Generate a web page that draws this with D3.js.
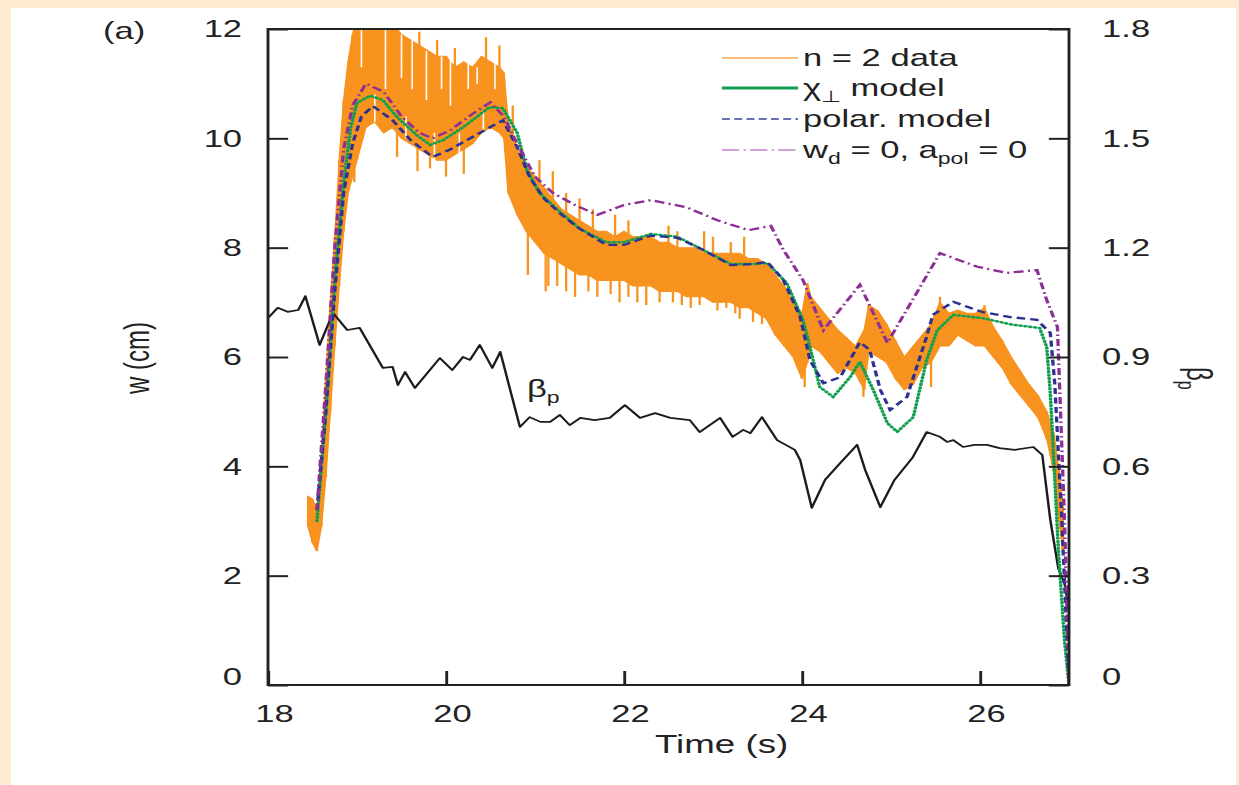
<!DOCTYPE html>
<html>
<head>
<meta charset="utf-8">
<script src="https://cdn.jsdelivr.net/npm/d3@7/dist/d3.min.js"></script>
<style>
  html, body { margin: 0; padding: 0; background: #FCEBD0; overflow: hidden; }
  svg { display: block; }
</style>
</head>
<body>
<script>
// ---------------- DATA ----------------
const timeTicks = [18, 20, 22, 24, 26];
const wTicks = [0, 2, 4, 6, 8, 10, 12];
const betaTicks = [0, 0.3, 0.6, 0.9, 1.2, 1.5, 1.8];
const betaTickLabels = ["0", "0.3", "0.6", "0.9", "1.2", "1.5", "1.8"];

const legendLabels = ["n = 2 data", "χ⊥ model", "polar. model", "wd = 0, apol = 0"];

// n=2 data: [time, lower envelope, upper envelope] (w in cm)
const orangeBand = [
  [18.45,2.9,3.45],[18.50,2.6,3.4],[18.55,2.45,3.2],[18.60,2.9,4.2],[18.65,3.8,5.6],
  [18.70,5.0,7.0],[18.75,6.2,8.2],[18.80,7.3,9.6],[18.85,8.3,10.7],[18.90,9.0,11.4],
  [18.95,9.3,11.9],[19.00,9.6,12.2],[19.10,10.2,12.3],[19.20,10.3,12.3],[19.30,10.1,12.3],
  [19.40,10.2,12.1],[19.50,10.0,11.9],[19.60,9.9,11.8],[19.70,9.8,11.7],[19.80,9.7,11.6],
  [19.90,9.6,11.5],[20.00,9.6,11.5],[20.10,9.7,11.3],[20.20,9.8,11.4],[20.30,9.9,11.3],
  [20.40,10.1,11.5],[20.50,10.2,11.4],[20.60,10.1,11.3],[20.65,10.0,11.2],[20.70,9.0,10.3],
  [20.80,8.6,9.8],[20.90,8.3,9.5],[21.00,8.1,9.3],[21.10,7.9,9.1],[21.20,7.8,8.9],
  [21.30,7.7,8.7],[21.40,7.6,8.6],[21.50,7.5,8.5],[21.60,7.5,8.4],[21.70,7.4,8.3],
  [21.80,7.4,8.3],[21.90,7.4,8.2],[22.00,7.4,8.3],[22.10,7.3,8.2],[22.20,7.3,8.2],
  [22.30,7.3,8.2],[22.40,7.2,8.1],[22.50,7.2,8.1],[22.60,7.2,8.0],[22.70,7.1,8.0],
  [22.80,7.1,8.0],[22.90,7.1,7.9],[23.00,7.0,7.9],[23.10,7.0,7.9],[23.20,7.0,7.9],
  [23.30,6.9,7.9],[23.40,6.9,7.8],[23.50,6.8,7.8],[23.60,6.7,7.7],[23.70,6.4,7.5],
  [23.80,6.2,7.3],[23.90,6.0,7.0],[24.00,5.6,6.8],[24.06,5.9,7.35],[24.10,6.2,7.1],
  [24.20,6.1,6.9],[24.30,5.9,6.7],[24.40,5.7,6.5],[24.50,5.8,6.35],[24.60,5.7,6.2],
  [24.70,5.4,6.5],[24.75,6.1,6.95],[24.85,6.0,6.85],[24.95,5.9,6.6],[25.05,5.6,6.3],
  [25.15,5.4,6.0],[25.25,5.5,6.2],[25.35,5.8,6.4],[25.45,5.9,6.6],[25.55,6.2,7.0],
  [25.65,6.2,6.8],[25.75,6.4,6.86],[25.85,6.3,6.8],[25.95,6.2,6.8],[26.05,6.2,6.9],
  [26.15,6.0,6.55],[26.25,5.8,6.3],[26.35,5.5,6.0],[26.45,5.3,5.75],[26.55,5.1,5.5],
  [26.65,4.9,5.3],[26.75,4.5,5.0],[26.83,3.9,4.6],[26.88,3.1,4.0],[26.93,2.45,3.3]
];
// isolated spikes of the noisy signal: [time, from, to]
const orangeSpikes = [
  [18.97,9.2,10.0],[19.45,9.66,10.5],[19.68,9.4,10.2],[19.82,9.45,10.0],[20.0,9.3,10.0],
  [20.2,9.35,10.0],[19.7,11.5,11.95],[19.9,11.3,11.8],[20.1,11.1,11.65],[20.45,11.3,11.85],
  [20.6,11.1,11.7],[20.75,9.5,10.6],[20.92,7.5,8.5],[21.05,9.0,9.6],[21.12,7.2,8.0],
  [21.25,7.3,7.9],[21.45,7.1,7.7],[21.5,8.3,8.9],[21.6,7.2,7.6],[21.9,8.0,8.6],
  [21.95,7.0,7.5],[22.25,6.95,7.4],[22.5,8.0,8.4],[22.55,7.0,7.3],[22.75,6.9,7.2],
  [22.9,7.8,8.3],[23.05,6.85,7.1],[23.3,6.7,7.0],[23.35,7.8,8.2],[23.45,6.64,7.0],
  [24.03,5.45,5.8],[24.69,5.27,5.6],[25.45,5.45,5.9],[25.55,6.9,7.1],[26.05,6.8,6.95],
  [21.15,7.3,7.9],[21.35,7.2,7.8],[21.7,7.1,7.5],[21.85,7.15,7.5],[22.05,7.1,7.5],
  [22.15,7.0,7.4],[22.4,7.0,7.3],[22.65,6.95,7.3],[22.85,6.95,7.2],[23.15,6.9,7.1],
  [23.25,6.8,7.1],[23.55,6.6,6.9],[21.2,8.9,9.4],[21.35,8.6,9.0],[21.65,8.3,8.7],
  [22.05,8.2,8.5],[22.6,7.9,8.3],[23.0,7.8,8.2],[23.2,7.8,8.1]
];
// blank gaps between the noisy vertical strokes: [time, from, to]
const orangeGaps = [
  [19.05,11.3,12.3],[19.32,10.9,12.3],[19.5,11.1,11.9],[19.62,10.9,11.8],[19.78,10.7,11.6],
  [19.95,10.9,11.5],[20.05,10.6,11.5],[20.25,10.9,11.4],[20.35,11.0,11.3],[20.55,10.9,11.4],
  [19.2,10.3,10.8],[19.55,10.0,10.4],[19.87,9.6,10.1],[20.15,9.7,10.1],[20.42,10.1,10.5]
];

// chi_perp model (green dotted)
const chiModel = [
  [18.55,3.0],[18.65,5.0],[18.75,7.4],[18.85,9.2],[18.93,10.2],[19.0,10.65],[19.15,10.78],
  [19.29,10.7],[19.45,10.39],[19.67,10.06],[19.82,9.88],[19.97,9.97],[20.19,10.2],[20.49,10.57],
  [20.64,10.55],[20.80,10.1],[20.91,9.42],[21.05,9.0],[21.25,8.7],[21.5,8.35],[21.8,8.1],
  [22.0,8.1],[22.3,8.25],[22.6,8.2],[22.9,7.95],[23.2,7.7],[23.45,7.7],[23.61,7.72],
  [23.83,7.35],[24.01,6.68],[24.09,6.18],[24.20,5.45],[24.35,5.27],[24.54,5.63],[24.65,5.91],
  [24.80,5.40],[24.96,4.79],[25.07,4.63],[25.25,4.90],[25.40,5.94],[25.52,6.49],[25.70,6.77],
  [26.03,6.71],[26.37,6.59],[26.67,6.53],[26.75,6.18],[26.79,5.34],[26.88,2.5],[26.95,0.8],[27.0,0]
];
// polarization model (blue dashed)
const polarModel = [
  [18.55,3.2],[18.65,5.0],[18.75,7.2],[18.85,9.0],[18.95,9.9],[19.05,10.4],[19.18,10.59],
  [19.4,10.33],[19.6,9.97],[19.85,9.66],[20.04,9.79],[20.27,10.0],[20.49,10.2],[20.64,10.33],
  [20.80,9.84],[20.94,9.29],[21.1,8.9],[21.3,8.6],[21.5,8.35],[21.8,8.05],[22.0,8.05],
  [22.3,8.22],[22.6,8.18],[22.9,7.95],[23.2,7.68],[23.45,7.7],[23.61,7.74],[23.79,7.41],
  [23.98,6.73],[24.09,5.94],[24.24,5.52],[24.43,5.63],[24.65,6.27],[24.76,6.13],[24.88,5.40],
  [24.99,5.03],[25.18,5.27],[25.40,6.37],[25.47,6.77],[25.70,7.01],[26.03,6.82],[26.34,6.73],
  [26.64,6.68],[26.79,6.44],[26.84,5.52],[26.92,3.0],[27.0,0]
];
// w_d = 0, a_pol = 0 (purple dash-dot)
const noDragModel = [
  [18.55,3.2],[18.65,5.5],[18.75,8.0],[18.85,9.8],[18.95,10.6],[19.1,11.0],[19.3,10.85],
  [19.5,10.4],[19.7,10.1],[19.85,10.0],[20.05,10.15],[20.3,10.45],[20.5,10.66],[20.65,10.4],
  [20.8,9.9],[21.0,9.3],[21.2,9.0],[21.45,8.78],[21.7,8.6],[22.0,8.78],[22.3,8.87],
  [22.7,8.74],[23.05,8.5],[23.4,8.32],[23.65,8.4],[23.79,7.96],[24.01,7.41],[24.24,6.49],
  [24.65,7.32],[24.96,6.26],[25.55,7.90],[25.97,7.65],[26.30,7.54],[26.64,7.59],[26.75,7.04],
  [26.87,6.55],[26.95,3.0],[27.0,0]
];
// beta_p (right axis)
const betaP = [
  [18.0,1.007],[18.11,1.035],[18.22,1.024],[18.34,1.029],[18.42,1.067],[18.58,0.933],[18.73,1.021],
  [18.89,0.974],[19.03,0.980],[19.29,0.870],[19.40,0.873],[19.46,0.823],[19.54,0.859],[19.65,0.815],
  [19.93,0.897],[20.07,0.864],[20.19,0.900],[20.27,0.892],[20.38,0.933],[20.52,0.870],[20.61,0.914],
  [20.83,0.708],[20.94,0.735],[21.06,0.722],[21.17,0.722],[21.28,0.741],[21.39,0.713],[21.51,0.733],
  [21.67,0.727],[21.84,0.733],[22.01,0.768],[22.18,0.733],[22.35,0.746],[22.52,0.733],[22.74,0.727],
  [22.85,0.694],[23.08,0.733],[23.22,0.681],[23.34,0.700],[23.42,0.691],[23.55,0.735],[23.72,0.672],
  [23.92,0.645],[23.98,0.617],[24.11,0.486],[24.26,0.563],[24.43,0.609],[24.62,0.659],[24.71,0.590],
  [24.88,0.488],[25.04,0.563],[25.24,0.623],[25.40,0.694],[25.55,0.681],[25.63,0.667],[25.70,0.672],
  [25.81,0.653],[25.94,0.659],[26.08,0.659],[26.22,0.650],[26.39,0.645],[26.60,0.653],[26.70,0.631],
  [26.79,0.453],[26.88,0.32],[26.96,0.27],[27.0,0.2]
];

// ---------------- DRAWING ----------------
const W = 1239, H = 785, S = 1.44;   // reference is horizontally stretched by ~1.44
const VW = W / S;
const FONT = "'Liberation Sans', Arial, Helvetica, sans-serif";
const INK = "#222";

const svg = d3.select("body").append("svg")
  .attr("width", W).attr("height", H)
  .attr("viewBox", `0 0 ${VW} ${H}`)
  .attr("preserveAspectRatio", "none")
  .style("font-family", FONT);

svg.append("rect").attr("x", 0).attr("y", 0).attr("width", VW).attr("height", H).attr("fill", "#FCEBD0");
svg.append("rect").attr("x", 11 / S).attr("y", 8).attr("width", (1236 - 11) / S).attr("height", H - 8).attr("fill", "#fff");

const x0 = 268 / S, x1 = 1069 / S, yTop = 29, yBot = 685;
const x = d3.scaleLinear().domain([18, 27]).range([x0, x1]);
const yL = d3.scaleLinear().domain([0, 12]).range([yBot, yTop]);
const yR = d3.scaleLinear().domain([0, 1.8]).range([yBot, yTop]);

svg.append("defs").append("clipPath").attr("id", "plotclip")
  .append("rect").attr("x", x0).attr("y", yTop).attr("width", x1 - x0).attr("height", yBot - yTop);

const plot = svg.append("g").attr("clip-path", "url(#plotclip)");

// orange data band
const ORANGE = "#F7931E";
plot.append("path").datum(orangeBand)
  .attr("d", d3.area().x(d => x(d[0])).y0(d => yL(d[1])).y1(d => yL(d[2])))
  .attr("fill", ORANGE).attr("stroke", ORANGE).attr("stroke-width", 1);
plot.append("path").datum(orangeBand)
  .attr("d", d => d.map((p, i) => `${i ? "L" : "M"}${x(p[0])},${yL(p[1])}L${x(p[0])},${yL(p[2])}`).join(""))
  .attr("fill", "none").attr("stroke", ORANGE).attr("stroke-width", 1.6);
plot.selectAll("line.gap").data(orangeGaps).join("line").attr("class", "gap")
  .attr("x1", d => x(d[0])).attr("x2", d => x(d[0]))
  .attr("y1", d => yL(d[1])).attr("y2", d => yL(d[2]))
  .attr("stroke", "#fff").attr("stroke-width", 1.1);
plot.selectAll("line.spike").data(orangeSpikes).join("line").attr("class", "spike")
  .attr("x1", d => x(d[0])).attr("x2", d => x(d[0]))
  .attr("y1", d => yL(d[1])).attr("y2", d => yL(d[2]))
  .attr("stroke", ORANGE).attr("stroke-width", 1.6);

// beta_p line
plot.append("path").datum(betaP)
  .attr("d", d3.line().x(d => x(d[0])).y(d => yR(d[1])))
  .attr("fill", "none").attr("stroke", "#1c1c1c").attr("stroke-width", 1.7).attr("stroke-linejoin", "round");

const lineW = d3.line().x(d => x(d[0])).y(d => yL(d[1]));
plot.append("path").datum(chiModel).attr("d", lineW)
  .attr("fill", "none").attr("stroke", "#12A04E").attr("stroke-width", 2.5)
  .attr("stroke-dasharray", "0.8,2.6").attr("stroke-linecap", "round");
plot.append("path").datum(polarModel).attr("d", lineW)
  .attr("fill", "none").attr("stroke", "#2E3192").attr("stroke-width", 2.3)
  .attr("stroke-dasharray", "6,3.5");
plot.append("path").datum(noDragModel).attr("d", lineW)
  .attr("fill", "none").attr("stroke", "#8E2F96").attr("stroke-width", 2.3)
  .attr("stroke-dasharray", "7,3,1.5,3");

// axes
function styleAxis(g) {
  g.select(".domain").remove();
  g.selectAll(".tick line").attr("stroke", INK).attr("stroke-width", 2);
  g.selectAll(".tick text").attr("fill", INK).style("font-size", "24px").style("font-family", FONT);
  g.attr("font-size", null).attr("font-family", null);
}
svg.append("g").attr("transform", `translate(${x0},0)`)
  .call(d3.axisLeft(yL).tickValues(wTicks).tickSizeInner(-14).tickSizeOuter(0).tickPadding(18).tickFormat(d3.format("d")))
  .call(styleAxis)
  .call(g => g.selectAll(".tick").filter(d => d === 0).select("text").attr("y", -8));
svg.append("g").attr("transform", `translate(${x1},0)`)
  .call(d3.axisRight(yR).tickValues(betaTicks).tickSizeInner(-14).tickSizeOuter(0).tickPadding(23)
    .tickFormat((d, i) => betaTickLabels[i]))
  .call(styleAxis)
  .call(g => g.selectAll(".tick").filter(d => d === 0).select("text").attr("y", -8));
svg.append("g").attr("transform", `translate(0,${yBot})`)
  .call(d3.axisBottom(x).tickValues(timeTicks).tickSizeInner(-14).tickSizeOuter(0).tickPadding(20).tickFormat(d3.format("d")))
  .call(styleAxis)
  .call(g => g.selectAll(".tick text").attr("x", 4));

// frame
svg.append("rect").attr("x", x0).attr("y", yTop).attr("width", x1 - x0).attr("height", yBot - yTop)
  .attr("fill", "none").attr("stroke", INK).attr("stroke-width", 2);

// titles
const T = svg.append("g").attr("fill", INK).style("font-size", "24px");
T.append("text").attr("x", 103 / S).attr("y", 39).text("(a)");
T.append("text").attr("x", 655 / S).attr("y", 753).style("font-size", "25.5px").text("Time (s)");
T.append("text").attr("transform", `translate(${137 / S},358) rotate(-90)`)
  .attr("text-anchor", "middle").attr("dominant-baseline", "central").text("w (cm)");
const rt = T.append("text").attr("transform", `translate(${1187 / S},367) rotate(90)`);
rt.append("tspan").text("β");
rt.append("tspan").attr("dy", 6).style("font-size", "16px").text("p");
const bl = T.append("text").attr("x", 527 / S).attr("y", 397);
bl.append("tspan").text("β");
bl.append("tspan").attr("dy", 6).style("font-size", "16px").text("p");

// legend
const legY = [58, 88, 119, 150];
const lx0 = 722 / S, lx1 = 798 / S, ltx = 803 / S;
const L = svg.append("g");
L.append("line").attr("x1", lx0).attr("x2", lx1).attr("y1", legY[0]).attr("y2", legY[0])
  .attr("stroke", "#F8A850").attr("stroke-width", 1.6);
L.append("line").attr("x1", lx0).attr("x2", lx1).attr("y1", legY[1]).attr("y2", legY[1])
  .attr("stroke", "#12A04E").attr("stroke-width", 3);
L.append("line").attr("x1", lx0).attr("x2", lx1).attr("y1", legY[2]).attr("y2", legY[2])
  .attr("stroke", "#3A3FA0").attr("stroke-width", 1.6).attr("stroke-dasharray", "5.5,3");
L.append("line").attr("x1", lx0).attr("x2", lx1).attr("y1", legY[3]).attr("y2", legY[3])
  .attr("stroke", "#CFA3D6").attr("stroke-width", 2).attr("stroke-dasharray", "12,3,1.5,3");

const LT = L.append("g").attr("fill", INK).style("font-size", "24px");
LT.append("text").attr("x", ltx).attr("y", legY[0] + 8).text(legendLabels[0]);
const l2 = LT.append("text").attr("x", ltx).attr("y", legY[1] + 8);
l2.append("tspan").text("χ");
l2.append("tspan").attr("dy", 6).style("font-size", "16px").text("⊥");
l2.append("tspan").attr("dy", -6).text(" model");
LT.append("text").attr("x", ltx).attr("y", legY[2] + 8).text(legendLabels[2]);
const l4 = LT.append("text").attr("x", ltx).attr("y", legY[3] + 8);
l4.append("tspan").text("w");
l4.append("tspan").attr("dy", 6).style("font-size", "16px").text("d");
l4.append("tspan").attr("dy", -6).text(" = 0, a");
l4.append("tspan").attr("dy", 6).style("font-size", "16px").text("pol");
l4.append("tspan").attr("dy", -6).text(" = 0");
</script>
</body>
</html>
